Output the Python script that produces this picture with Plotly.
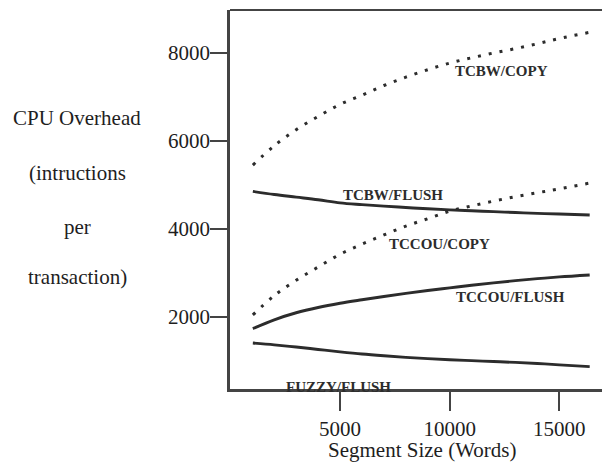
import plotly.graph_objects as go

# Segment sizes (words)
segment_size = [1024, 2000, 3000, 4000, 5000, 6000, 7000, 8000,
                9000, 10000, 11000, 12000, 13000, 14000, 15000, 16384]

# CPU overhead (instructions per transaction)
tcbw_copy = [5450, 5890, 6255, 6555, 6830, 7040, 7260, 7450,
             7620, 7770, 7890, 8000, 8100, 8210, 8330, 8470]
tcbw_flush = [4850, 4780, 4720, 4660, 4590, 4550, 4515, 4485,
              4455, 4430, 4410, 4390, 4370, 4350, 4335, 4315]
tccou_copy = [2040, 2480, 2830, 3130, 3420, 3650, 3860, 4060,
              4230, 4400, 4520, 4630, 4730, 4820, 4910, 5040]
tccou_flush = [1730, 1930, 2090, 2210, 2305, 2385, 2460, 2530,
               2595, 2655, 2715, 2770, 2820, 2865, 2905, 2950]
fuzzy_flush = [1400, 1360, 1310, 1255, 1200, 1150, 1110, 1075,
               1045, 1020, 1000, 980, 960, 935, 905, 865]

x_ticks = [5000, 10000, 15000]
y_ticks = [2000, 4000, 6000, 8000]

series = [
    ("TCBW/COPY", tcbw_copy, "dot"),
    ("TCBW/FLUSH", tcbw_flush, "solid"),
    ("TCCOU/COPY", tccou_copy, "dot"),
    ("TCCOU/FLUSH", tccou_flush, "solid"),
    ("FUZZY/FLUSH", fuzzy_flush, "solid"),
]

# label positions (data coords)
label_pos = {
    "TCBW/COPY": (12385, 7590),
    "TCBW/FLUSH": (7415, 4770),
    "TCCOU/COPY": (9530, 3649),
    "TCCOU/FLUSH": (12773, 2455),
    "FUZZY/FLUSH": (4952, 407),
}

SERIF = "Liberation Serif"
INK = "#2c2c2c"

fig = go.Figure()
for name, vals, style in series:
    if style == "dot":
        line = dict(color=INK, width=3, dash="3px,8px", shape="spline", smoothing=1.0)
    else:
        line = dict(color=INK, width=2.9, shape="spline", smoothing=1.0)
    fig.add_trace(go.Scatter(x=segment_size, y=vals, mode="lines", name=name,
                             line=line, showlegend=False, hoverinfo="skip"))

annotations = []
for name, (lx, ly) in label_pos.items():
    annotations.append(dict(x=lx, y=ly, xref="x", yref="y", text="<b>" + name + "</b>",
                            showarrow=False,
                            font=dict(family=SERIF, size=15, color=INK),
                            xanchor="center", yanchor="middle"))

ytitle_lines = [("CPU Overhead", 118), ("(intructions", 173), ("per", 227), ("transaction)", 277)]
for txt, py in ytitle_lines:
    annotations.append(dict(x=(77 - 230) / 378, y=(389 - py) / 379, xref="paper", yref="paper",
                            text=txt, showarrow=False,
                            font=dict(family=SERIF, size=21, color="#1e1e1e"),
                            xanchor="center", yanchor="middle"))

annotations.append(dict(x=(422 - 230) / 378, y=(389 - 450) / 379, xref="paper", yref="paper",
                        text="Segment Size (Words)", showarrow=False,
                        font=dict(family=SERIF, size=21, color="#1e1e1e"),
                        xanchor="center", yanchor="middle"))

# The page body adds an 8px offset, so the figure is sized 8px smaller.
fig.update_layout(
    width=602, height=462,
    margin=dict(l=222, r=2, t=2, b=81),
    plot_bgcolor="white", paper_bgcolor="white",
    annotations=annotations,
    shapes=[
        dict(type="line", xref="paper", yref="paper", x0=0, x1=1, y0=1, y1=1,
             line=dict(color="#444", width=2)),
        dict(type="line", xref="paper", yref="paper", x0=1, x1=1, y0=0, y1=1,
             line=dict(color="#d0d0d0", width=1)),
    ],
)
fig.update_xaxes(range=[-18, 17219], tickvals=x_ticks, ticktext=[str(v) for v in x_ticks],
                 ticks="outside", ticklen=19, tickwidth=2, tickcolor="#444",
                 showline=True, linewidth=2.5, linecolor="#444",
                 showgrid=False, zeroline=False,
                 tickfont=dict(family=SERIF, size=21, color="#1e1e1e"))
fig.update_yaxes(range=[355, 8978], tickvals=y_ticks, ticktext=[str(v) for v in y_ticks],
                 ticks="outside", ticklen=17, tickwidth=2, tickcolor="#444",
                 ticklabelstandoff=-4,
                 showline=True, linewidth=2.5, linecolor="#444",
                 showgrid=False, zeroline=False,
                 tickfont=dict(family=SERIF, size=21, color="#1e1e1e"))

fig.write_html("out.html")
